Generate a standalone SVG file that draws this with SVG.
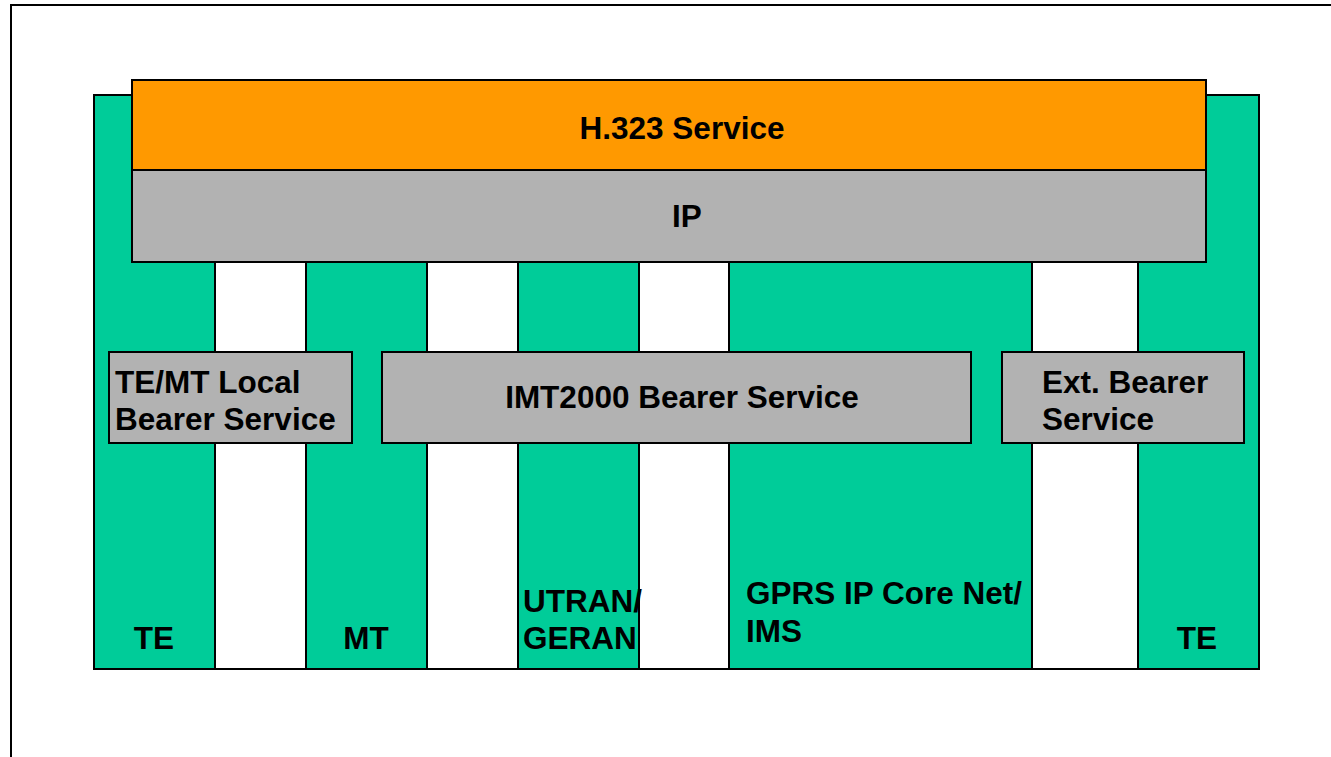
<svg xmlns="http://www.w3.org/2000/svg" width="1331" height="757" viewBox="0 0 1331 757">
<style>
.t{font-family:"Liberation Sans",Arial,sans-serif;font-weight:bold;font-size:31.5px;fill:#000}
.m{text-anchor:middle}
.col{fill:#00CC99;stroke:#000;stroke-width:2}
.box{fill:#B2B2B2;stroke:#000;stroke-width:2}
</style>
<rect width="1331" height="757" fill="#fff"/>
<rect x="11" y="5" width="1340" height="770" fill="none" stroke="#000" stroke-width="2"/>
<g id="base"><rect x="94" y="95" width="1165" height="574" fill="#fff" stroke="#000" stroke-width="2"/></g>
<g id="col-te1"><rect class="col" x="94" y="95" width="121" height="574"/><text class="t m" x="154" y="649">TE</text></g>
<g id="col-mt"><rect class="col" x="306" y="95" width="121" height="574"/><text class="t m" x="366" y="649">MT</text></g>
<g id="col-utran"><rect class="col" x="518" y="95" width="121" height="574"/><text class="t" x="523" y="612">UTRAN/</text><text class="t" x="523" y="649">GERAN</text></g>
<g id="col-gprs"><rect class="col" x="729" y="95" width="303" height="574"/><text class="t" x="746" y="604">GPRS IP Core Net/</text><text class="t" x="746" y="642">IMS</text></g>
<g id="col-te2"><rect class="col" x="1138" y="95" width="121" height="574"/><text class="t m" x="1197" y="649">TE</text></g>
<g id="h323"><rect x="132" y="80" width="1074" height="90" fill="#FF9900" stroke="#000" stroke-width="2"/><text class="t m" x="682" y="139">H.323 Service</text></g>
<g id="ip"><rect class="box" x="132" y="170" width="1074" height="92"/><text class="t m" x="687" y="227">IP</text></g>
<g id="local"><rect class="box" x="109" y="352" width="243" height="91"/><text class="t" x="115" y="393">TE/MT Local</text><text class="t" x="115" y="430">Bearer Service</text></g>
<g id="imt"><rect class="box" x="382" y="352" width="589" height="91"/><text class="t m" x="682" y="408">IMT2000 Bearer Service</text></g>
<g id="ext"><rect class="box" x="1002" y="352" width="242" height="91"/><text class="t" x="1042" y="393">Ext. Bearer</text><text class="t" x="1042" y="430">Service</text></g>
<g id="connectors"></g>
</svg>
